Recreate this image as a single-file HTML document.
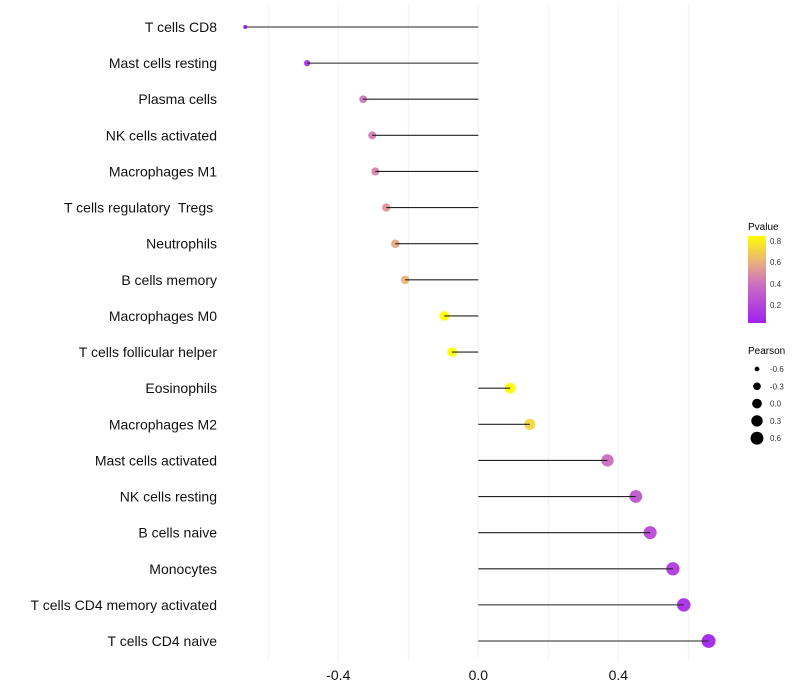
<!DOCTYPE html>
<html><head><meta charset="utf-8"><style>
html,body{margin:0;padding:0;background:#fff;width:800px;height:700px;overflow:hidden}
svg text{font-family:"Liberation Sans",sans-serif;white-space:pre}
</style></head><body>
<svg id="chart" width="800" height="700">
<g id="grid"></g>
<g id="marks"></g>
<g id="ylabels"></g>
<g id="xlabels"></g>
<g id="legend">
<defs><linearGradient id="pg" x1="0" y1="1" x2="0" y2="0">
<stop offset="0" stop-color="#a020f0"/><stop offset="0.45" stop-color="#cc70c0"/><stop offset="0.7" stop-color="#eab07e"/><stop offset="1" stop-color="#ffff00"/></linearGradient></defs>
<text x="748" y="230" font-size="10">Pvalue</text>
<rect x="748" y="236" width="18" height="87" fill="url(#pg)"/>
<text x="770" y="244" font-size="8" fill="#333">0.8</text>
<text x="770" y="265" font-size="8" fill="#333">0.6</text>
<text x="770" y="287" font-size="8" fill="#333">0.4</text>
<text x="770" y="308" font-size="8" fill="#333">0.2</text>
<text x="748" y="354" font-size="10">Pearson</text>
</g>
</svg>
<script>
const categories=["T cells CD8","Mast cells resting","Plasma cells","NK cells activated","Macrophages M1","T cells regulatory  Tregs ","Neutrophils","B cells memory","Macrophages M0","T cells follicular helper","Eosinophils","Macrophages M2","Mast cells activated","NK cells resting","B cells naive","Monocytes","T cells CD4 memory activated","T cells CD4 naive"];
const pearson=[-0.666,-0.489,-0.329,-0.303,-0.294,-0.263,-0.237,-0.209,-0.097,-0.075,0.091,0.147,0.369,0.45,0.491,0.556,0.587,0.658];
const pvalue=[0.03,0.12,0.42,0.45,0.47,0.52,0.58,0.62,0.85,0.87,0.85,0.72,0.38,0.28,0.22,0.15,0.1,0.05];
const xTicks=[-0.4,0.0,0.4];
const gridVals=[-0.6,-0.4,-0.2,0,0.2,0.4,0.6];
const legendVals=[-0.6,-0.3,0.0,0.3,0.6];
const NS="http://www.w3.org/2000/svg";
const xs=v=>478.3+v*350;
const ys=i=>27+i*(641-27)/17;
const rs=v=>Math.sqrt(Math.max(1,26.1+33.1*v));
const stops=[[0,[160,32,240]],[0.45,[204,112,192]],[0.7,[234,176,126]],[1,[255,255,0]]];
function col(p){let t=Math.min(1,Math.max(0,(p-0.03)/0.82));for(let k=1;k<stops.length;k++){if(t<=stops[k][0]){const a=stops[k-1],b=stops[k],f=(t-a[0])/(b[0]-a[0]);return "rgb("+a[1].map((c,j)=>Math.round(c+(b[1][j]-c)*f)).join(",")+")";}}return "rgb(255,255,0)";}
function mk(tag,at,parent){const e=document.createElementNS(NS,tag);for(const k in at)e.setAttribute(k,at[k]);document.getElementById(parent).appendChild(e);return e;}
gridVals.forEach(v=>{const l=mk("line",{x1:xs(v),x2:xs(v),y1:5,y2:660,stroke:"#f0f0f0","stroke-width":1},"grid");

});
categories.forEach((c,i)=>{
const y=ys(i);
const p=mk("circle",{cx:xs(pearson[i]),cy:y,r:rs(pearson[i]),fill:col(pvalue[i]),opacity:0.95},"marks");


const l=mk("line",{x1:xs(0),x2:xs(pearson[i]),y1:y,y2:y,stroke:"#222","stroke-width":1.1},"marks");


const t=mk("text",{x:217,y:y+5,"text-anchor":"end","font-size":14,fill:"#111"},"ylabels");
t.textContent=c;


});
xTicks.forEach(v=>{const t=mk("text",{x:xs(v),y:680,"text-anchor":"middle","font-size":14,fill:"#111"},"xlabels");
t.textContent=v.toFixed(1);

});
legendVals.forEach((v,k)=>{const y=369+k*17.3;
const c=mk("circle",{cx:757,cy:y,r:rs(v)*0.95,fill:"#000"},"legend");


const t=mk("text",{x:770,y:y+3,"font-size":8,fill:"#333"},"legend");
t.textContent=v.toFixed(1);

});
</script>
</body></html>
